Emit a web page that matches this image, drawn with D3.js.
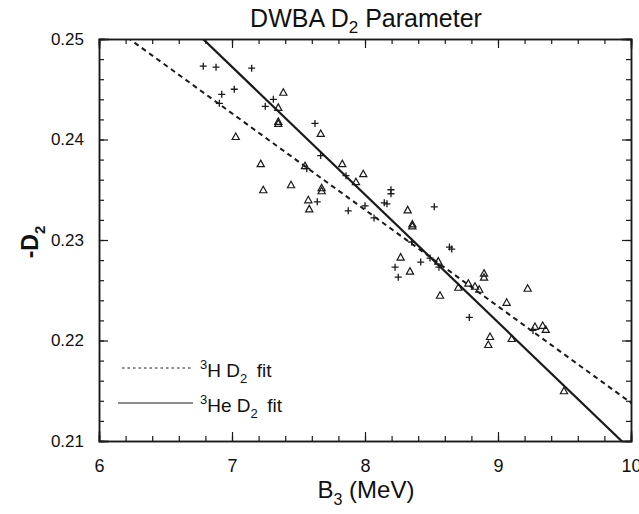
<!DOCTYPE html>
<html>
<head>
<meta charset="utf-8">
<script src="https://cdn.jsdelivr.net/npm/d3@7"></script>
<style>
  body { margin: 0; background: #fff; }
  text { font-family: "Liberation Sans", Arial, sans-serif; fill: #111; }
</style>
</head>
<body>
<script>
// 3H points (plus markers): [B3, -D2]
const tritonB3 = [6.784, 6.88, 7.148, 6.923, 7.017, 7.311, 7.25, 6.905, 7.624, 7.562,
  7.667, 7.857, 7.641, 7.874, 8.0, 8.068, 8.195, 8.195, 8.145, 8.165, 8.521, 8.351,
  8.635, 8.652, 8.226, 8.25, 8.419, 8.489, 8.556, 8.784, 9.263];
const tritonD2 = [0.2473, 0.2472, 0.2471, 0.2445, 0.245, 0.244, 0.2433, 0.2436, 0.2416, 0.2371,
  0.2384, 0.2364, 0.2338, 0.2329, 0.2334, 0.2322, 0.235, 0.2346, 0.2337, 0.2336, 0.2333, 0.2298,
  0.2293, 0.2291, 0.2273, 0.2263, 0.2278, 0.2282, 0.2273, 0.2223, 0.221];

// 3He points (open triangles)
const heliumB3 = [7.386, 7.348, 7.348, 7.348, 7.028, 7.667, 7.216, 7.549, 7.829, 7.987,
  7.932, 7.235, 7.444, 7.674, 7.674, 7.574, 7.581, 8.321, 8.356, 8.356, 8.268, 8.338,
  8.551, 8.564, 8.702, 8.777, 8.827, 8.859, 8.895, 8.895, 9.223, 9.065, 9.278, 9.336,
  9.359, 8.94, 8.927, 9.103, 9.496];
const heliumD2 = [0.2447, 0.2432, 0.2418, 0.2416, 0.2403, 0.2406, 0.2376, 0.2374, 0.2376, 0.2366,
  0.2358, 0.235, 0.2355, 0.2352, 0.2349, 0.234, 0.2331, 0.233, 0.2316, 0.2314, 0.2283, 0.2269,
  0.2279, 0.2245, 0.2253, 0.2257, 0.2254, 0.2251, 0.2267, 0.2263, 0.2252, 0.2238, 0.2214, 0.2215,
  0.2211, 0.2204, 0.2196, 0.2202, 0.215];

// linear fits: -D2 = a + b * B3
const fitTriton = { a: 0.3098, b: -0.0096 };
const fitHelium = { a: 0.3362, b: -0.01271 };

const xMajor = [6, 7, 8, 9, 10];
const yMajor = [0.21, 0.22, 0.23, 0.24, 0.25];

const width = 639;
const height = 514;
const margin = { left: 99, right: 8, top: 39, bottom: 73 };
const innerW = width - margin.left - margin.right;
const innerH = height - margin.top - margin.bottom;
const ink = "#1a1a1a";

const x = d3.scaleLinear().domain([6, 10]).range([0, innerW]);
const y = d3.scaleLinear().domain([0.21, 0.25]).range([innerH, 0]);

const xMinor = d3.range(6, 10.001, 0.2).map(v => +v.toFixed(1));
const yMinor = d3.range(0.21, 0.25001, 0.002).map(v => +v.toFixed(3));

const svg = d3.select("body").append("svg")
  .attr("width", width)
  .attr("height", height);

svg.append("defs").append("clipPath").attr("id", "plot")
  .append("rect").attr("width", innerW).attr("height", innerH);

const g = svg.append("g")
  .attr("transform", `translate(${margin.left},${margin.top})`);

// axes, ticks pointing inward on all four sides
function drawAxis(axis, tx, ty) {
  const a = g.append("g").attr("transform", `translate(${tx},${ty})`).call(axis);
  a.selectAll("path").attr("stroke", ink).attr("stroke-width", 1.5);
  a.selectAll("line").attr("stroke", ink).attr("stroke-width", 1.2);
  return a;
}

const bottomMajor = drawAxis(d3.axisBottom(x).tickValues(xMajor).tickSize(-9).tickPadding(18)
  .tickFormat(d3.format("d")), 0, innerH);
bottomMajor.selectAll("text").attr("font-size", 18).attr("fill", ink);
drawAxis(d3.axisBottom(x).tickValues(xMinor).tickSize(-5).tickFormat(""), 0, innerH);
drawAxis(d3.axisTop(x).tickValues(xMajor).tickSize(-9).tickFormat(""), 0, 0);
drawAxis(d3.axisTop(x).tickValues(xMinor).tickSize(-5).tickFormat(""), 0, 0);

const leftMajor = drawAxis(d3.axisLeft(y).tickValues(yMajor).tickSize(-9).tickPadding(15)
  .tickFormat(d3.format(".2f")), 0, 0);
leftMajor.selectAll("text").attr("font-size", 17).attr("fill", ink);
drawAxis(d3.axisLeft(y).tickValues(yMinor).tickSize(-5).tickFormat(""), 0, 0);
drawAxis(d3.axisRight(y).tickValues(yMajor).tickSize(-9).tickFormat(""), innerW, 0);
drawAxis(d3.axisRight(y).tickValues(yMinor).tickSize(-5).tickFormat(""), innerW, 0);

svg.selectAll(".domain").attr("stroke-linecap", "square");

// fit lines
const plot = g.append("g").attr("clip-path", "url(#plot)");
const line = d3.line().x(d => x(d[0])).y(d => y(d[1]));

function fitPoints(f) {
  return [5.5, 10.5].map(b => [b, f.a + f.b * b]);
}

plot.append("path")
  .attr("d", line(fitPoints(fitTriton)))
  .attr("fill", "none")
  .attr("stroke", ink)
  .attr("stroke-width", 2)
  .attr("stroke-dasharray", "5,4");

plot.append("path")
  .attr("d", line(fitPoints(fitHelium)))
  .attr("fill", "none")
  .attr("stroke", ink)
  .attr("stroke-width", 2.2);

// markers
const tritonData = tritonB3.map((b, i) => [b, tritonD2[i]]);
const heliumData = heliumB3.map((b, i) => [b, heliumD2[i]]);

g.selectAll(".triton").data(tritonData).enter().append("path")
  .attr("class", "triton")
  .attr("transform", d => `translate(${x(d[0])},${y(d[1])})`)
  .attr("d", "M-3.5,0H3.5M0,-3.5V3.5")
  .attr("stroke", ink)
  .attr("stroke-width", 1.3)
  .attr("fill", "none");

g.selectAll(".helium").data(heliumData).enter().append("path")
  .attr("class", "helium")
  .attr("transform", d => `translate(${x(d[0])},${y(d[1])})`)
  .attr("d", "M0,-3.5L3.6,3L-3.6,3Z")
  .attr("stroke", ink)
  .attr("stroke-width", 1.2)
  .attr("fill", "none");

// legend
const legend = g.append("g");
legend.append("line")
  .attr("x1", 23).attr("x2", 94).attr("y1", 329).attr("y2", 329)
  .attr("stroke", ink).attr("stroke-width", 1).attr("stroke-dasharray", "2.5,3");
legend.append("line")
  .attr("x1", 19).attr("x2", 94).attr("y1", 364).attr("y2", 364)
  .attr("stroke", ink).attr("stroke-width", 1);

const l1 = legend.append("text").attr("x", 101).attr("y", 338).attr("font-size", 19);
l1.append("tspan").attr("dy", -8).attr("font-size", 13).text("3");
l1.append("tspan").attr("dy", 8).text("H D");
l1.append("tspan").attr("dy", 6).attr("font-size", 13).text("2");
l1.append("tspan").attr("dy", -6).text("\u2002fit");

const l2 = legend.append("text").attr("x", 101).attr("y", 373).attr("font-size", 19);
l2.append("tspan").attr("dy", -8).attr("font-size", 13).text("3");
l2.append("tspan").attr("dy", 8).text("He D");
l2.append("tspan").attr("dy", 6).attr("font-size", 13).text("2");
l2.append("tspan").attr("dy", -6).text("\u2002fit");

// title and axis labels
const title = svg.append("text")
  .attr("x", 366).attr("y", 27)
  .attr("text-anchor", "middle").attr("font-size", 25);
title.append("tspan").text("DWBA D");
title.append("tspan").attr("dy", 6).attr("font-size", 17).text("2");
title.append("tspan").attr("dy", -6).text(" Parameter");

const xLabel = svg.append("text")
  .attr("x", 366).attr("y", 498)
  .attr("text-anchor", "middle").attr("font-size", 24);
xLabel.append("tspan").text("B");
xLabel.append("tspan").attr("dy", 7).attr("font-size", 16).text("3");
xLabel.append("tspan").attr("dy", -7).text(" (MeV)");

const yLabel = svg.append("text")
  .attr("transform", "translate(38,242) rotate(-90)")
  .attr("text-anchor", "middle").attr("font-size", 23).attr("font-weight", "bold");
yLabel.append("tspan").text("-D");
yLabel.append("tspan").attr("dy", 7).attr("font-size", 15).text("2");
</script>
</body>
</html>
